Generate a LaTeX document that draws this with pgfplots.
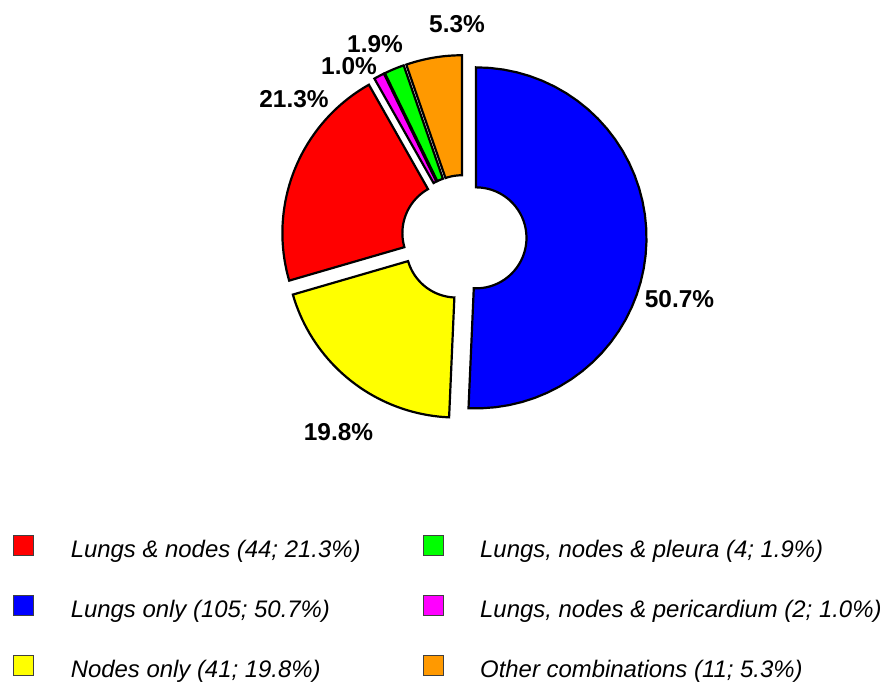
\documentclass[border=0pt]{standalone}
\usepackage{pgfplots}
\pgfplotsset{compat=1.18}
\usepackage{fontspec}
\setmainfont{Liberation Sans}
\definecolor{pieorange}{RGB}{255,153,0}
\definecolor{piegreen}{RGB}{0,255,0}
\definecolor{pieblue}{RGB}{0,0,255}
\definecolor{piered}{RGB}{255,0,0}
\definecolor{pieyellow}{RGB}{255,255,0}
\definecolor{piemagenta}{RGB}{255,0,255}
% #1 cumulative start (percent), #2 cumulative end (percent), #3 colour
\newcommand\slice[3]{%
\addplot[forget plot, fill=#3, draw=black, line width=2.2bp, domain=0:1, samples=81, variable=\t]
({464 + 12*cos(90-1.8*(#1+#2)) + ((\t<0.506) ? 170.5 : 50.5)*cos(((\t<0.506) ? (90-3.6*#1-3.6*(#2-#1)*2*\t) : (90-3.6*#2+3.6*(#2-#1)*(\t-0.5125)/0.4875)))},
 {-237.6 + 12*sin(90-1.8*(#1+#2)) + ((\t<0.506) ? 170.5 : 50.5)*sin(((\t<0.506) ? (90-3.6*#1-3.6*(#2-#1)*2*\t) : (90-3.6*#2+3.6*(#2-#1)*(\t-0.5125)/0.4875)))}) -- cycle;}
\begin{document}
\begin{tikzpicture}
\begin{axis}[
  hide axis, scale only axis, width=887bp, height=685bp,
  xmin=0, xmax=887, ymin=-685, ymax=0, clip=false,
  legend columns=2,
  legend image code/.code={\draw[#1, draw=black!75, line width=1.2bp] (0bp,-10bp) rectangle (20bp,10bp); \path[draw=none, fill=none] (0bp,0bp) -- (57bp,0bp);},
  legend style={draw=none, fill=none, inner sep=0pt, at={(axis cs:13,-533)}, anchor=north west,
    font=\itshape\fontsize{24}{29}\selectfont, row sep=36bp,
    /tikz/every even column/.append style={column sep=62bp},
    cells={anchor=west}, nodes={inner sep=0pt, text height=24bp, text depth=0bp}},
]
\slice{0}{50.7}{pieblue}
\slice{50.7}{70.5}{pieyellow}
\slice{70.5}{91.8}{piered}
\slice{91.8}{92.8}{piemagenta}
\slice{92.8}{94.7}{piegreen}
\slice{94.7}{100}{pieorange}
\addlegendimage{fill=piered}\addlegendentry{Lungs \& nodes (44; 21.3\%)}
\addlegendimage{fill=piegreen}\addlegendentry{Lungs, nodes \& pleura (4; 1.9\%)}
\addlegendimage{fill=pieblue}\addlegendentry{Lungs only (105; 50.7\%)}
\addlegendimage{fill=piemagenta}\addlegendentry{Lungs, nodes \& pericardium (2; 1.0\%)}
\addlegendimage{fill=pieyellow}\addlegendentry{Nodes only (41; 19.8\%)}
\addlegendimage{fill=pieorange}\addlegendentry{Other combinations (11; 5.3\%)}
\begin{scope}[every node/.style={font=\bfseries\fontsize{24.5}{29}\selectfont}]
\node at (axis cs:679.5,-299) {50.7\%};
\node at (axis cs:338.5,-432.5) {19.8\%};
\node at (axis cs:294,-99) {21.3\%};
\node at (axis cs:349,-66) {1.0\%};
\node at (axis cs:375,-44) {1.9\%};
\node at (axis cs:457,-24) {5.3\%};
\end{scope}
\end{axis}
\pgfresetboundingbox
\path (0,0) rectangle (887bp,685bp);
\end{tikzpicture}
\end{document}
